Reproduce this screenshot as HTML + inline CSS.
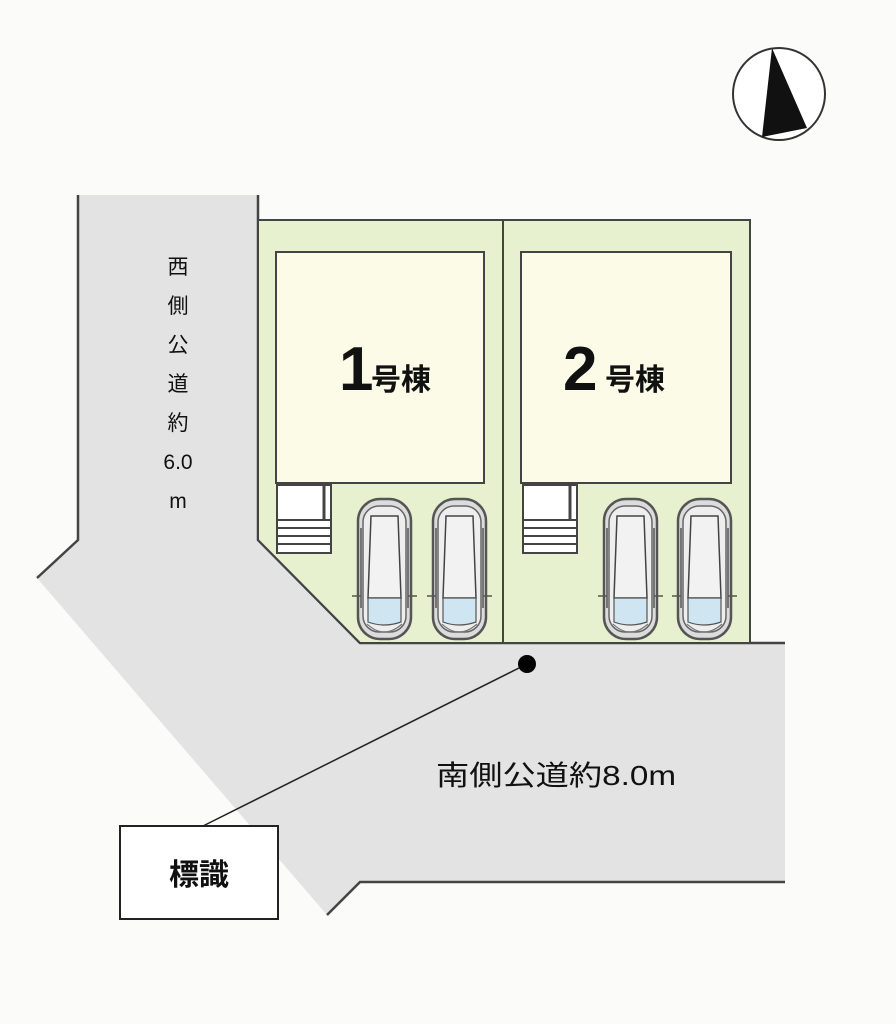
<!DOCTYPE html>
<html><head><meta charset="utf-8"><style>
html,body{margin:0;padding:0;background:#fbfbf9;}
svg{display:block}
</style></head><body>
<svg width="896" height="1024" viewBox="0 0 896 1024" xmlns="http://www.w3.org/2000/svg">
<defs>
<g id="car">
 <rect x="1" y="1" width="53" height="140" rx="22" fill="#dcdcdc" stroke="#555" stroke-width="2.5"/>
 <rect x="6" y="8" width="43" height="126" rx="16" fill="#eeeeee" stroke="#666" stroke-width="1.5"/>
 <path d="M14 18 L41 18 L44 100 L11 100 Z" fill="#f2f2f2" stroke="#444" stroke-width="1.5"/>
 <path d="M11 100 L44 100 L44 124 Q27 130 11 124 Z" fill="#cfe6f2" stroke="#555" stroke-width="1.2"/>
 <path d="M10 126 Q27 142 45 126" fill="none" stroke="#777" stroke-width="1.2"/>
 <line x1="4" y1="30" x2="4" y2="110" stroke="#555" stroke-width="1.5"/>
 <line x1="51" y1="30" x2="51" y2="110" stroke="#555" stroke-width="1.5"/>
 <line x1="-5" y1="98" x2="4" y2="98" stroke="#555" stroke-width="1.5"/>
 <line x1="51" y1="98" x2="60" y2="98" stroke="#555" stroke-width="1.5"/>
</g>
<g id="stairs">
 <rect x="0" y="0" width="54" height="68" fill="#fff" stroke="#444" stroke-width="2"/>
 <line x1="0" y1="35" x2="54" y2="35" stroke="#444" stroke-width="2"/>
 <line x1="0" y1="43" x2="54" y2="43" stroke="#444" stroke-width="2"/>
 <line x1="0" y1="51" x2="54" y2="51" stroke="#444" stroke-width="2"/>
 <line x1="0" y1="59" x2="54" y2="59" stroke="#444" stroke-width="2"/>
 <line x1="47" y1="0" x2="47" y2="35" stroke="#444" stroke-width="3"/>
</g>
</defs>
<path d="M78 195 L258 195 L258 540 L360 643 L785 643 L785 882 L360 882 L327 915 L37 578 L78 540 Z" fill="#e3e3e3"/>
<polyline points="78,195 78,540 37,578" fill="none" stroke="#444" stroke-width="2.5"/>
<polyline points="258,195 258,540 360,643 785,643" fill="none" stroke="#444" stroke-width="2.5"/>
<polyline points="327,915 360,882 785,882" fill="none" stroke="#444" stroke-width="2.5"/>
<path d="M258 220 L750 220 L750 643 L360 643 L258 540 Z" fill="#e7f0cf" stroke="#444" stroke-width="2"/>
<line x1="503" y1="220" x2="503" y2="643" stroke="#444" stroke-width="2"/>
<rect x="276" y="252" width="208" height="231" fill="#fbfbe8" stroke="#444" stroke-width="2"/>
<rect x="521" y="252" width="210" height="231" fill="#fbfbe8" stroke="#444" stroke-width="2"/>
<use href="#stairs" x="277" y="485"/>
<use href="#stairs" x="523" y="485"/>
<use href="#car" x="357" y="498"/>
<use href="#car" x="432" y="498"/>
<use href="#car" x="603" y="498"/>
<use href="#car" x="677" y="498"/>
<text x="339" y="390" font-family="Liberation Sans, sans-serif" font-weight="bold" font-size="62" fill="#111">1</text>
<text x="371" y="390" font-family="Liberation Sans, Noto Sans CJK JP, sans-serif" font-weight="bold" font-size="30" fill="#111">号棟</text>
<text x="563" y="390" font-family="Liberation Sans, sans-serif" font-weight="bold" font-size="62" fill="#111">2</text>
<text x="605" y="390" font-family="Liberation Sans, Noto Sans CJK JP, sans-serif" font-weight="bold" font-size="30" fill="#111">号棟</text>
<g font-family="Liberation Sans, Noto Sans CJK JP, sans-serif" font-size="21" fill="#111" text-anchor="middle">
<text x="178" y="274">西</text>
<text x="178" y="313">側</text>
<text x="178" y="352">公</text>
<text x="178" y="391">道</text>
<text x="178" y="430">約</text>
<text x="178" y="469">6.0</text>
<text x="178" y="508">m</text>
</g>
<text x="436" y="785" font-family="Liberation Sans, Noto Sans CJK JP, sans-serif" font-size="28" fill="#111" textLength="240" lengthAdjust="spacingAndGlyphs">南側公道約8.0m</text>
<line x1="203" y1="826" x2="527" y2="664" stroke="#222" stroke-width="1.5"/>
<circle cx="527" cy="664" r="9" fill="#000"/>
<rect x="120" y="826" width="158" height="93" fill="#fff" stroke="#222" stroke-width="2"/>
<text x="199" y="885" text-anchor="middle" font-family="Liberation Sans, Noto Sans CJK JP, sans-serif" font-weight="bold" font-size="30" fill="#111">標識</text>
<circle cx="779" cy="94" r="46" fill="#fff" stroke="#333" stroke-width="2"/>
<polygon points="772,48 762,137 807,128" fill="#111"/>
</svg>
</body></html>
